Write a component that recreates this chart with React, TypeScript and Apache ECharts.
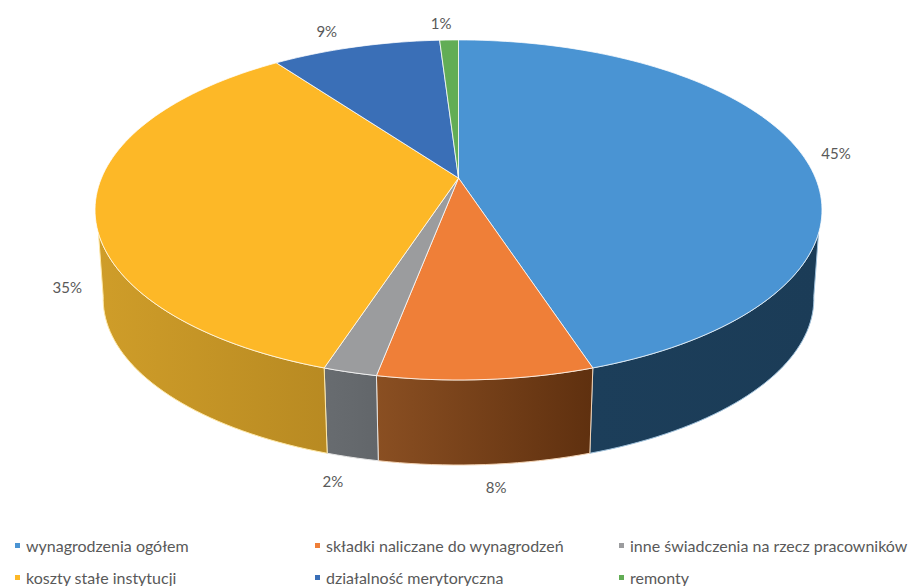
import React, { useEffect, useRef } from "react";
import * as echarts from "echarts";

const categories = [
  "wynagrodzenia ogółem",
  "składki naliczane do wynagrodzeń",
  "inne świadczenia na rzecz pracowników",
  "koszty stałe instytucji",
  "działalność merytoryczna",
  "remonty",
];
const shares = [45, 8, 2, 35, 9, 1];
const topColors = ["#4a94d3", "#ef7f38", "#9b9c9e", "#fdb827", "#3a6fb7", "#62ad55"];
const wallStops = [
  ["#1c3e5a", "#1b3c57"],
  ["#8a4f22", "#5f300f"],
  ["#686c70", "#62666a"],
  ["#cf9d29", "#b88a22"],
  ["#2b5389", "#2b5389"],
  ["#47803f", "#47803f"],
];
const wallEdges = ["#9fc0da", "#f3d3b4", "#e4e4e4", "#ffe8a6", "#cccccc", "#cccccc"];
const labelOffsets = [
  [35, 0],
  [10, 108],
  [-17, 109],
  [-28, 83],
  [-29, -16],
  [-8, -17],
];

const WIDTH = 913;
const HEIGHT = 586;
const CX = 458.5;

// A disc seen in perspective: angle runs clockwise from the back of the disc.
const tilt = 0.188;
const topRim = { radius: 357, depth: 164, y: 178 };
const baseRim = { radius: 349, depth: 160.3, y: 267.6 };

type Rim = typeof topRim;

function rimPoint(rim: Rim, deg: number): [number, number] {
  const a = (deg * Math.PI) / 180;
  const X = Math.sin(a);
  const Y = -Math.cos(a);
  const s = 1 / (1 - tilt * Y);
  return [CX + rim.radius * X * s, rim.y + rim.depth * Y * s];
}

function arcPoints(rim: Rim, from: number, to: number): [number, number][] {
  const steps = Math.max(2, Math.ceil(Math.abs(to - from) / 1.5));
  const pts: [number, number][] = [];
  for (let i = 0; i <= steps; i++) {
    pts.push(rimPoint(rim, from + ((to - from) * i) / steps));
  }
  return pts;
}

function toPath(pts: [number, number][], close: boolean): string {
  const d = pts.map((p, i) => `${i ? "L" : "M"}${p[0].toFixed(2)} ${p[1].toFixed(2)}`).join(" ");
  return close ? `${d} Z` : d;
}

const total = shares.reduce((sum, v) => sum + v, 0);
const startShare = (index: number) => shares.slice(0, index).reduce((sum, v) => sum + v, 0);

// The wall only shows on the near side of the disc.
const TOP_VISIBLE = [108.5, 251.5];
const BASE_VISIBLE = [100, 260];

function renderSlice(index: number) {
  return (_params: any, api: any) => {
    const value = api.value(0) as number;
    const from = (startShare(index) / total) * 360;
    const to = from + (value / total) * 360;
    const children: any[] = [];

    const topA = Math.max(from, TOP_VISIBLE[0]);
    const topB = Math.min(to, TOP_VISIBLE[1]);
    if (topA < topB) {
      const baseA = from <= TOP_VISIBLE[0] ? BASE_VISIBLE[0] : from;
      const baseB = to >= TOP_VISIBLE[1] ? BASE_VISIBLE[1] : to;
      const wall = [...arcPoints(topRim, topA, topB), ...arcPoints(baseRim, baseB, baseA)];
      children.push({
        type: "path",
        shape: { pathData: toPath(wall, true) },
        style: {
          fill: new echarts.graphic.LinearGradient(0, 0, 1, 0, [
            { offset: 0, color: wallStops[index][0] },
            { offset: 1, color: wallStops[index][1] },
          ]),
          stroke: wallEdges[index],
          lineWidth: 1,
        },
      });
    }

    const top: [number, number][] = [[CX, topRim.y], ...arcPoints(topRim, from, to)];
    children.push({
      type: "path",
      shape: { pathData: toPath(top, true) },
      style: { fill: topColors[index], stroke: "#ffffff", lineWidth: 1, strokeOpacity: 0.75 },
    });

    const mid = rimPoint(topRim, (from + to) / 2);
    children.push({
      type: "text",
      style: {
        text: `${value}%`,
        x: mid[0] + labelOffsets[index][0],
        y: mid[1] + labelOffsets[index][1],
        align: "center",
        verticalAlign: "middle",
        fill: "#595959",
        font: '15px Lato, "Noto Sans", sans-serif',
      },
    });

    return { type: "group", children };
  };
}

const legendColumn = (names: string[], left: number) => ({
  show: true,
  orient: "vertical" as const,
  left,
  top: 537,
  padding: 0,
  data: names,
  icon: "rect",
  itemWidth: 5,
  itemHeight: 5,
  itemGap: 15,
  selectedMode: false,
  textStyle: {
    color: "#595959",
    fontFamily: 'Lato, "Noto Sans", sans-serif',
    fontSize: 16,
    padding: [0, 0, 0, 1],
    height: 17,
    lineHeight: 17,
  },
});

export default function App() {
  const ref = useRef<HTMLDivElement>(null);

  useEffect(() => {
    const chart = echarts.init(ref.current!, undefined, { renderer: "svg" });
    chart.setOption({
      animation: false,
      backgroundColor: "#ffffff",
      legend: [
        legendColumn([categories[0], categories[3]], 15),
        legendColumn([categories[1], categories[4]], 315),
        legendColumn([categories[2], categories[5]], 619),
      ],
      series: categories.map((name, i) => ({
        type: "custom",
        name,
        coordinateSystem: "none",
        renderItem: renderSlice(i),
        itemStyle: { color: topColors[i] },
        data: [[shares[i]]],
        silent: true,
      })),
    });
    return () => chart.dispose();
  }, []);

  return (
    <div
      ref={ref}
      style={{ position: "absolute", left: 0, top: 0, width: WIDTH, height: HEIGHT }}
    />
  );
}
